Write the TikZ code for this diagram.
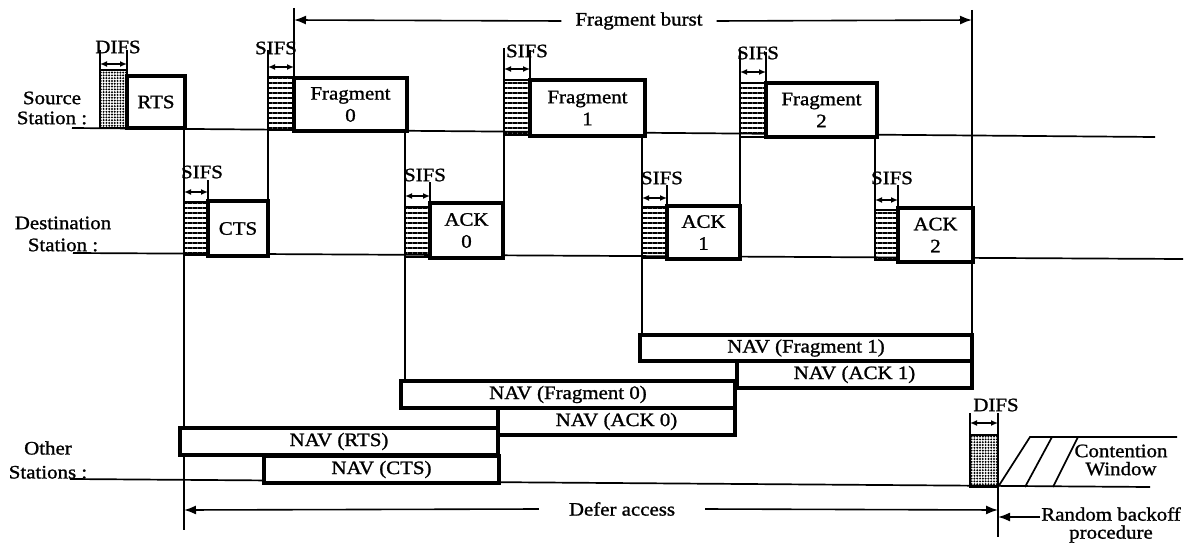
\documentclass[tikz,border=0pt]{standalone}
\usepackage{fontspec}
\setmainfont{Liberation Serif}[FakeStretch=1.1,FakeBold=1.2]
\usetikzlibrary{arrows.meta,patterns.meta}
\begin{document}
\begin{tikzpicture}[x=1pt,y=-1pt,
  every node/.style={font=\fontsize{19}{20}\selectfont,inner sep=0pt,outer sep=0pt},
  frame/.style={draw,line width=4.8pt,fill=white,align=center,inner sep=0pt,font=\fontsize{19}{22}\selectfont},
  tl/.style={line width=1.7pt},
  tickln/.style={line width=1.4pt},
  ifs/.style={line width=2pt,{Latex[length=7pt,width=6pt]}-{Latex[length=7pt,width=6pt]}},
  span/.style={line width=1.6pt,-{Latex[length=12pt,width=9pt]}},
  sifsfill/.style={draw,line width=1.2pt,pattern={Lines[angle=0,distance=5pt,line width=2.6pt]}},
  difsfill/.style={draw,line width=1.2pt,pattern={Dots[distance=2.8pt,radius=1.1pt]}},
  lbl/.style={align=center}
]
\useasboundingbox (0,0) rectangle (1191,543);

% station labels
\node[lbl] (srcl) at (52,108) {Source\\Station :};
\node[lbl,font=\fontsize{19}{22}\selectfont] (dstl) at (63,234) {Destination\\Station :};
\node[lbl,font=\fontsize{19}{24}\selectfont] (othl) at (48,460) {Other\\Stations :};

% time lines
\draw[tl] (72,128) -- (1155,137);
\draw[tl] (73,253) -- (1183,259);
\draw[tl] (70,479) -- (1150,487);

% vertical time marks
\draw[tl] (184,128) -- (184,530);
\draw[tl] (268,50) -- (268,256);
\draw[tl] (294,8) -- (294,77);
\draw[tl] (405,130) -- (405,381);
\draw[tl] (504,48) -- (504,258);
\draw[tl] (642,136) -- (642,335);
\draw[tl] (740,50) -- (740,259);
\draw[tl] (875,137) -- (875,260);
\draw[tl] (972,10) -- (972,388);
\draw[tl] (998,413) -- (998,537);

% interval ticks
\draw[tickln] (100,50) -- (100,70);
\draw[tickln] (127,50) -- (127,76);
\draw[tickln] (530,50) -- (530,80);
\draw[tickln] (766,52) -- (766,83);
\draw[tickln] (208,180) -- (208,202);
\draw[tickln] (430,182) -- (430,207);
\draw[tickln] (667,185) -- (667,207);
\draw[tickln] (898,185) -- (898,210);
\draw[tickln] (970,413) -- (970,435);

% IFS fills
\path[difsfill] (100,70) rectangle (127,128);
\path[sifsfill] (268,77) rectangle (294,130);
\path[sifsfill] (504,80) rectangle (530,135);
\path[sifsfill] (740,83) rectangle (766,137);
\path[sifsfill] (184,202) rectangle (208,255);
\path[sifsfill] (405,207) rectangle (430,257);
\path[sifsfill] (642,207) rectangle (667,258);
\path[sifsfill] (875,210) rectangle (898,260);
\path[difsfill] (970,435) rectangle (998,487);

% IFS labels and arrows
\node (l1) at (118,47) {DIFS};  \draw[ifs] (100,64) -- (127,64);
\node (l2) at (276,48) {SIFS};  \draw[ifs] (268,67) -- (294,67);
\node (l3) at (527,51) {SIFS};  \draw[ifs] (504,69) -- (530,69);
\node (l4) at (758,53) {SIFS};  \draw[ifs] (740,72) -- (766,72);
\node (l5) at (202,172) {SIFS}; \draw[ifs] (184,192) -- (208,192);
\node (l6) at (425,175) {SIFS}; \draw[ifs] (405,196) -- (430,196);
\node (l7) at (662,178) {SIFS}; \draw[ifs] (642,198) -- (667,198);
\node (l8) at (892,178) {SIFS}; \draw[ifs] (875,200) -- (898,200);
\node (l9) at (996,405) {DIFS}; \draw[ifs] (970,423) -- (998,423);

% frames
\node[frame,minimum width=58pt,minimum height=52pt] (rts) at (156,102) {RTS};
\node[frame,minimum width=113pt,minimum height=53pt] (f0) at (350.5,104.5) {Fragment\\0};
\node[frame,minimum width=115pt,minimum height=56pt] (f1) at (587.5,108) {Fragment\\1};
\node[frame,minimum width=111pt,minimum height=54pt] (f2) at (821.5,110) {Fragment\\2};
\node[frame,minimum width=60pt,minimum height=55pt] (cts) at (238,228.5) {CTS};
\node[frame,minimum width=73pt,minimum height=55pt] (a0) at (466.5,230.5) {ACK\\0};
\node[frame,minimum width=73pt,minimum height=53pt] (a1) at (703.5,232.5) {ACK\\1};
\node[frame,minimum width=75pt,minimum height=54pt] (a2) at (935.5,235) {ACK\\2};

% NAV frames
\node[frame,minimum width=332pt,minimum height=26pt] (nf1) at (806,348) {NAV (Fragment 1)};
\node[frame,minimum width=235pt,minimum height=27pt] (na1) at (854.5,374.5) {NAV (ACK 1)};
\node[frame,minimum width=334pt,minimum height=27pt] (nf0) at (568,394.5) {NAV (Fragment 0)};
\node[frame,minimum width=237pt,minimum height=27pt] (na0) at (616.5,421.5) {NAV (ACK 0)};
\node[frame,minimum width=318pt,minimum height=27pt] (nrts) at (339,441.5) {NAV (RTS)};
\node[frame,minimum width=235pt,minimum height=27pt] (ncts) at (381.5,469.5) {NAV (CTS)};

% contention window
\coordinate (cw1) at (998,487);
\coordinate (cw2) at (1030,437);
\draw[tl] (cw1) -- (cw2) -- (1177,437);
\draw[tl] (1025,487) -- (1052,437);
\draw[tl] (1053,487) -- (1078,437);
\node[lbl,font=\fontsize{19}{18}\selectfont] (cw) at (1121,460) {Contention\\Window};

% fragment burst
\node[fill=white,inner xsep=14pt,inner ysep=2pt] (fb) at (639,21) {Fragment burst};
\coordinate (fbl) at (294,20);
\coordinate (fbr) at (972,20);
\draw[span] (fb.west) -- (fbl);
\draw[span] (fb.east) -- (fbr);

% defer access
\node[fill=white,inner xsep=30pt,inner ysep=2pt] (da) at (622,509) {Defer access};
\coordinate (dal) at (184,510);
\coordinate (dar) at (998,510);
\draw[span] (da.west) -- (dal);
\draw[span] (da.east) -- (dar);

% random backoff
\node[lbl,font=\fontsize{19}{18}\selectfont] (rb) at (1111,525) {Random backoff\\procedure};
\coordinate (rbl) at (998,517);
\draw[span] ([xshift=-1pt]rb.west |- rbl) -- (rbl);
\end{tikzpicture}
\end{document}
